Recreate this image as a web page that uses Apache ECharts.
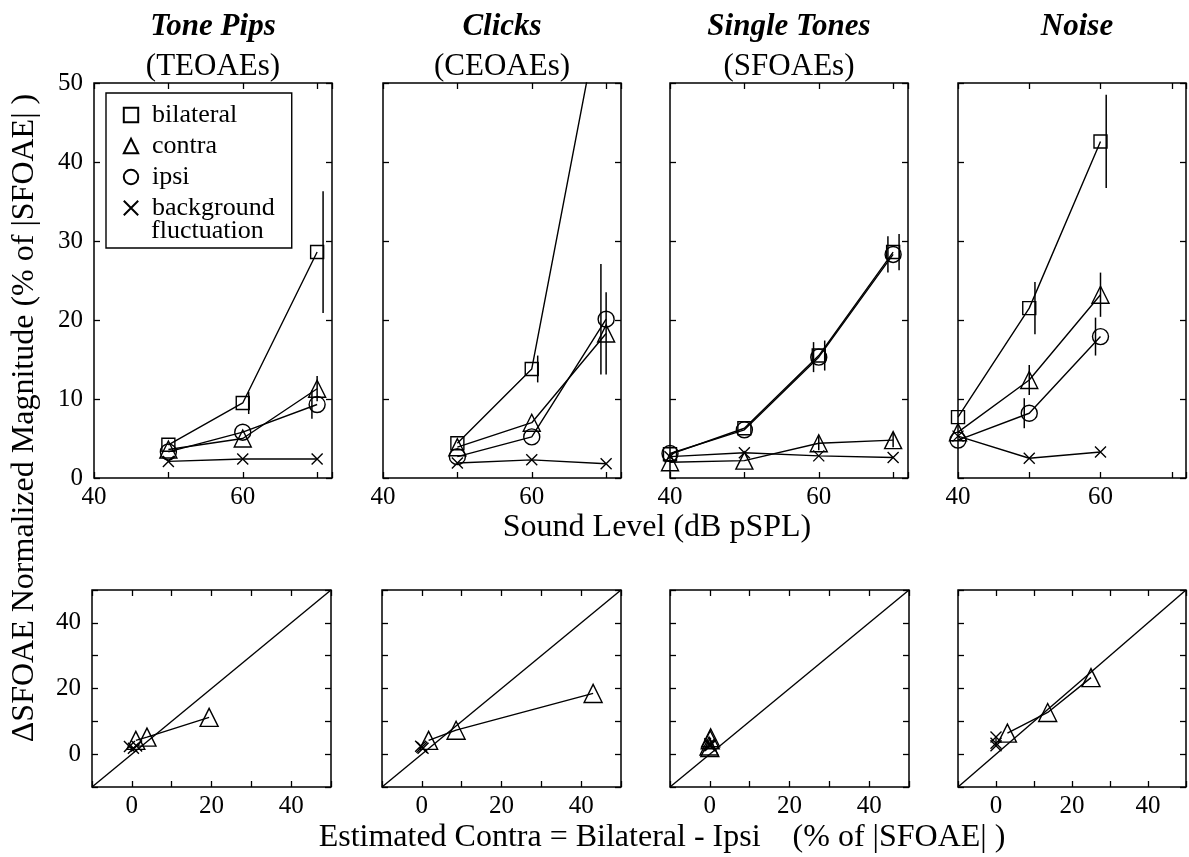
<!DOCTYPE html>
<html>
<head>
<meta charset="utf-8">
<script src="https://cdn.jsdelivr.net/npm/echarts@6/dist/echarts.min.js"></script>
<style>
  html, body { margin: 0; padding: 0; background: #fff; }
  #chart { width: 1189px; height: 857px; }
</style>
</head>
<body>
<div id="chart"></div>
<script>
const FONT = '"Liberation Serif", "Times New Roman", serif';

// panel headings
const panelNames = ['Tone Pips', 'Clicks', 'Single Tones', 'Noise'];
const panelSubs = ['(TEOAEs)', '(CEOAEs)', '(SFOAEs)', ''];

// sound level, dB pSPL
const levels = [[50, 60, 70], [50, 60, 70], [40, 50, 60, 70], [40, 50, 60]];

// top row: delta SFOAE, % of |SFOAE|
const bilateral = [[4.2, 9.5, 28.6], [4.4, 13.8, 63], [3.0, 6.3, 15.5, 28.6], [7.7, 21.5, 42.6]];
const contra = [[3.6, 5.0, 11.3], [3.9, 7.0, 18.3], [2.0, 2.2, 4.4, 4.8], [5.8, 12.4, 23.2]];
const ipsi = [[3.3, 5.8, 9.3], [2.7, 5.2, 20.1], [3.1, 6.1, 15.3, 28.3], [4.8, 8.2, 17.9]];
const background = [[2.1, 2.4, 2.4], [1.9, 2.3, 1.8], [2.7, 3.2, 2.8, 2.6], [5.3, 2.5, 3.3]];

// half length of the visible error bars (null = hidden by the marker)
const bilateralErr = [[null, 1.4, 7.7], [null, 1.7, null], [null, null, 1.9, 2.3], [null, 3.3, 5.9]];
const contraErr = [[null, null, 1.6], [null, null, 5.2], [null, null, 0.9, 0.9], [null, 1.9, 2.8]];
const ipsiErr = [[null, null, 1.8], [null, null, 7.0], [null, null, 1.9, 2.3], [null, 1.9, 2.4]];

// bottom row: [estimated contra (bilateral - ipsi), measured]
const estContra = [
  [[1.0, 4.2], [3.8, 5.2], [19.4, 11.2]],
  [[1.7, 4.2], [8.6, 7.3], [43.0, 18.5]],
  [[0.0, 2.0], [-0.2, 2.5], [0.1, 4.4], [0.2, 5.0]],
  [[3.0, 6.4], [13.6, 12.7], [25.0, 23.3]]
];
const estBackground = [
  [[-0.6, 2.3], [0.4, 1.8], [1.2, 2.5]],
  [[-0.3, 2.4], [0.0, 2.1], [0.3, 1.8]],
  [[0.0, 2.8], [0.0, 3.2], [0.2, 2.7], [0.0, 2.6]],
  [[0.0, 5.2], [0.0, 2.6], [0.0, 3.3]]
];
const diagonal = [-10, 50];

const topLefts = [94, 383, 670, 958];
const botLefts = [92, 382, 670, 958];

const chart = echarts.init(document.getElementById('chart'));

const grids = [], xAxes = [], yAxes = [], series = [], titles = [];
const tick = { show: true, inside: true, length: 6, lineStyle: { color: '#000', width: 1.3 } };
const label = { color: '#000', fontFamily: FONT, fontSize: 25 };

function addAxes(g, xr, yr, xFmt, yFmt, showY) {
  const base = { gridIndex: g, type: 'value', axisLine: { show: false, onZero: false }, splitLine: { show: false }, axisTick: tick };
  xAxes.push(Object.assign({}, base, { position: 'bottom', min: xr[0], max: xr[1], interval: 10,
    axisLabel: Object.assign({}, label, { margin: 7, formatter: xFmt, showMaxLabel: true }) }));
  xAxes.push(Object.assign({}, base, { position: 'top', min: xr[0], max: xr[1], interval: 10, axisLabel: { show: false } }));
  yAxes.push(Object.assign({}, base, { position: 'left', min: yr[0], max: yr[1], interval: 10,
    axisLabel: Object.assign({}, label, { show: showY, margin: 11, formatter: yFmt }) }));
  yAxes.push(Object.assign({}, base, { position: 'right', min: yr[0], max: yr[1], interval: 10, axisLabel: { show: false } }));
}

function lineSeries(name, g, data, symbol, size) {
  return {
    name: name, type: 'line', xAxisIndex: g * 2, yAxisIndex: g * 2, data: data,
    symbol: symbol, symbolSize: size, showAllSymbol: true, clip: true,
    lineStyle: { color: '#000', width: 1.4 },
    itemStyle: { color: 'rgba(0,0,0,0)', borderColor: '#000', borderWidth: 1.4 },
    emphasis: { disabled: true }, z: 3
  };
}

function errSeries(g, xs, ys, errs, off) {
  const data = [];
  xs.forEach((x, i) => { if (errs[i] != null) data.push([x + off, ys[i] - errs[i], ys[i] + errs[i]]); });
  return {
    type: 'custom', xAxisIndex: g * 2, yAxisIndex: g * 2, data: data, clip: true, z: 2,
    renderItem: function (params, api) {
      const a = api.coord([api.value(0), api.value(1)]);
      const b = api.coord([api.value(0), api.value(2)]);
      return { type: 'line', shape: { x1: a[0], y1: a[1], x2: b[0], y2: b[1] }, style: { stroke: '#000', lineWidth: 1.5 } };
    }
  };
}

const CROSS = 'path://M0,0L10,10M10,0L0,10';
const pairs = (xs, ys) => xs.map((x, i) => [x, ys[i]]);

for (let p = 0; p < 4; p++) {
  // top panel
  const g = p;
  grids.push({ left: topLefts[p], top: 83, width: 238, height: 395, show: true, borderColor: '#000', borderWidth: 1.5 });
  addAxes(g, [40, 72], [0, 50],
    v => (v === 40 || v === 60) ? String(v) : '',
    v => String(v), p === 0);
  const xs = levels[p];
  series.push(errSeries(g, xs, bilateral[p], bilateralErr[p], 0.8));
  series.push(errSeries(g, xs, contra[p], contraErr[p], 0));
  series.push(errSeries(g, xs, ipsi[p], ipsiErr[p], -0.7));
  series.push(lineSeries('bilateral', g, pairs(xs, bilateral[p]), 'rect', 13));
  series.push(lineSeries('contra', g, pairs(xs, contra[p]), 'triangle', 17));
  series.push(lineSeries('ipsi', g, pairs(xs, ipsi[p]), 'circle', 16));
  series.push(lineSeries('background', g, pairs(xs, background[p]), CROSS, 11));

  titles.push({
    text: panelNames[p], subtext: panelSubs[p], left: topLefts[p] + 119, textAlign: 'center', top: 11, padding: 0, itemGap: 9,
    textStyle: { fontFamily: FONT, fontSize: 31, fontStyle: 'italic', fontWeight: 'bold', color: '#000' },
    subtextStyle: { fontFamily: FONT, fontSize: 31, color: '#000' }
  });
}

for (let p = 0; p < 4; p++) {
  // bottom panel
  const g = 4 + p;
  grids.push({ left: botLefts[p], top: 590, width: 239, height: 197, show: true, borderColor: '#000', borderWidth: 1.5 });
  addAxes(g, [-10, 50], [-10, 50],
    v => (v === 0 || v === 20 || v === 40) ? String(v) : '',
    v => (v === 0 || v === 20 || v === 40) ? String(v) : '', p === 0);
  series.push(Object.assign(lineSeries('identity', g, [[diagonal[0], diagonal[0]], [diagonal[1], diagonal[1]]], 'none', 0), { z: 1 }));
  series.push(lineSeries('contra', g, estContra[p], 'triangle', 18));
  series.push(lineSeries('background', g, estBackground[p], CROSS, 11));
}

const option = {
  backgroundColor: '#fff',
  animation: false,
  title: titles,
  grid: grids,
  xAxis: xAxes,
  yAxis: yAxes,
  series: series,
  legend: {
    orient: 'vertical', left: 106, top: 93, padding: [7, 17, 25, 8], itemGap: 1,
    itemWidth: 32, itemHeight: 18, selectedMode: false,
    borderColor: '#000', borderWidth: 1.4, backgroundColor: '#fff',
    textStyle: { fontFamily: FONT, fontSize: 26, color: '#000', lineHeight: 30 },
    lineStyle: { opacity: 0 },
    data: ['bilateral', 'contra', 'ipsi', 'background']
  },
  graphic: [
    { type: 'text', x: 151, y: 231, z: 100, style: { text: 'fluctuation', fontFamily: FONT, fontSize: 26, fill: '#000', align: 'left', verticalAlign: 'middle' } },
    { type: 'text', x: 657, y: 528, style: { text: 'Sound Level (dB pSPL)', fontFamily: FONT, fontSize: 32, fill: '#000', align: 'center', verticalAlign: 'middle' } },
    { type: 'text', x: 25, y: 418, rotation: Math.PI / 2, style: { text: 'ΔSFOAE Normalized Magnitude (% of |SFOAE| )', fontFamily: FONT, fontSize: 32, fill: '#000', align: 'center', verticalAlign: 'middle' } },
    { type: 'text', x: 662, y: 838, style: { text: 'Estimated Contra = Bilateral - Ipsi    (% of |SFOAE| )', fontFamily: FONT, fontSize: 32, fill: '#000', align: 'center', verticalAlign: 'middle' } }
  ]
};

chart.setOption(option);
</script>
</body>
</html>
